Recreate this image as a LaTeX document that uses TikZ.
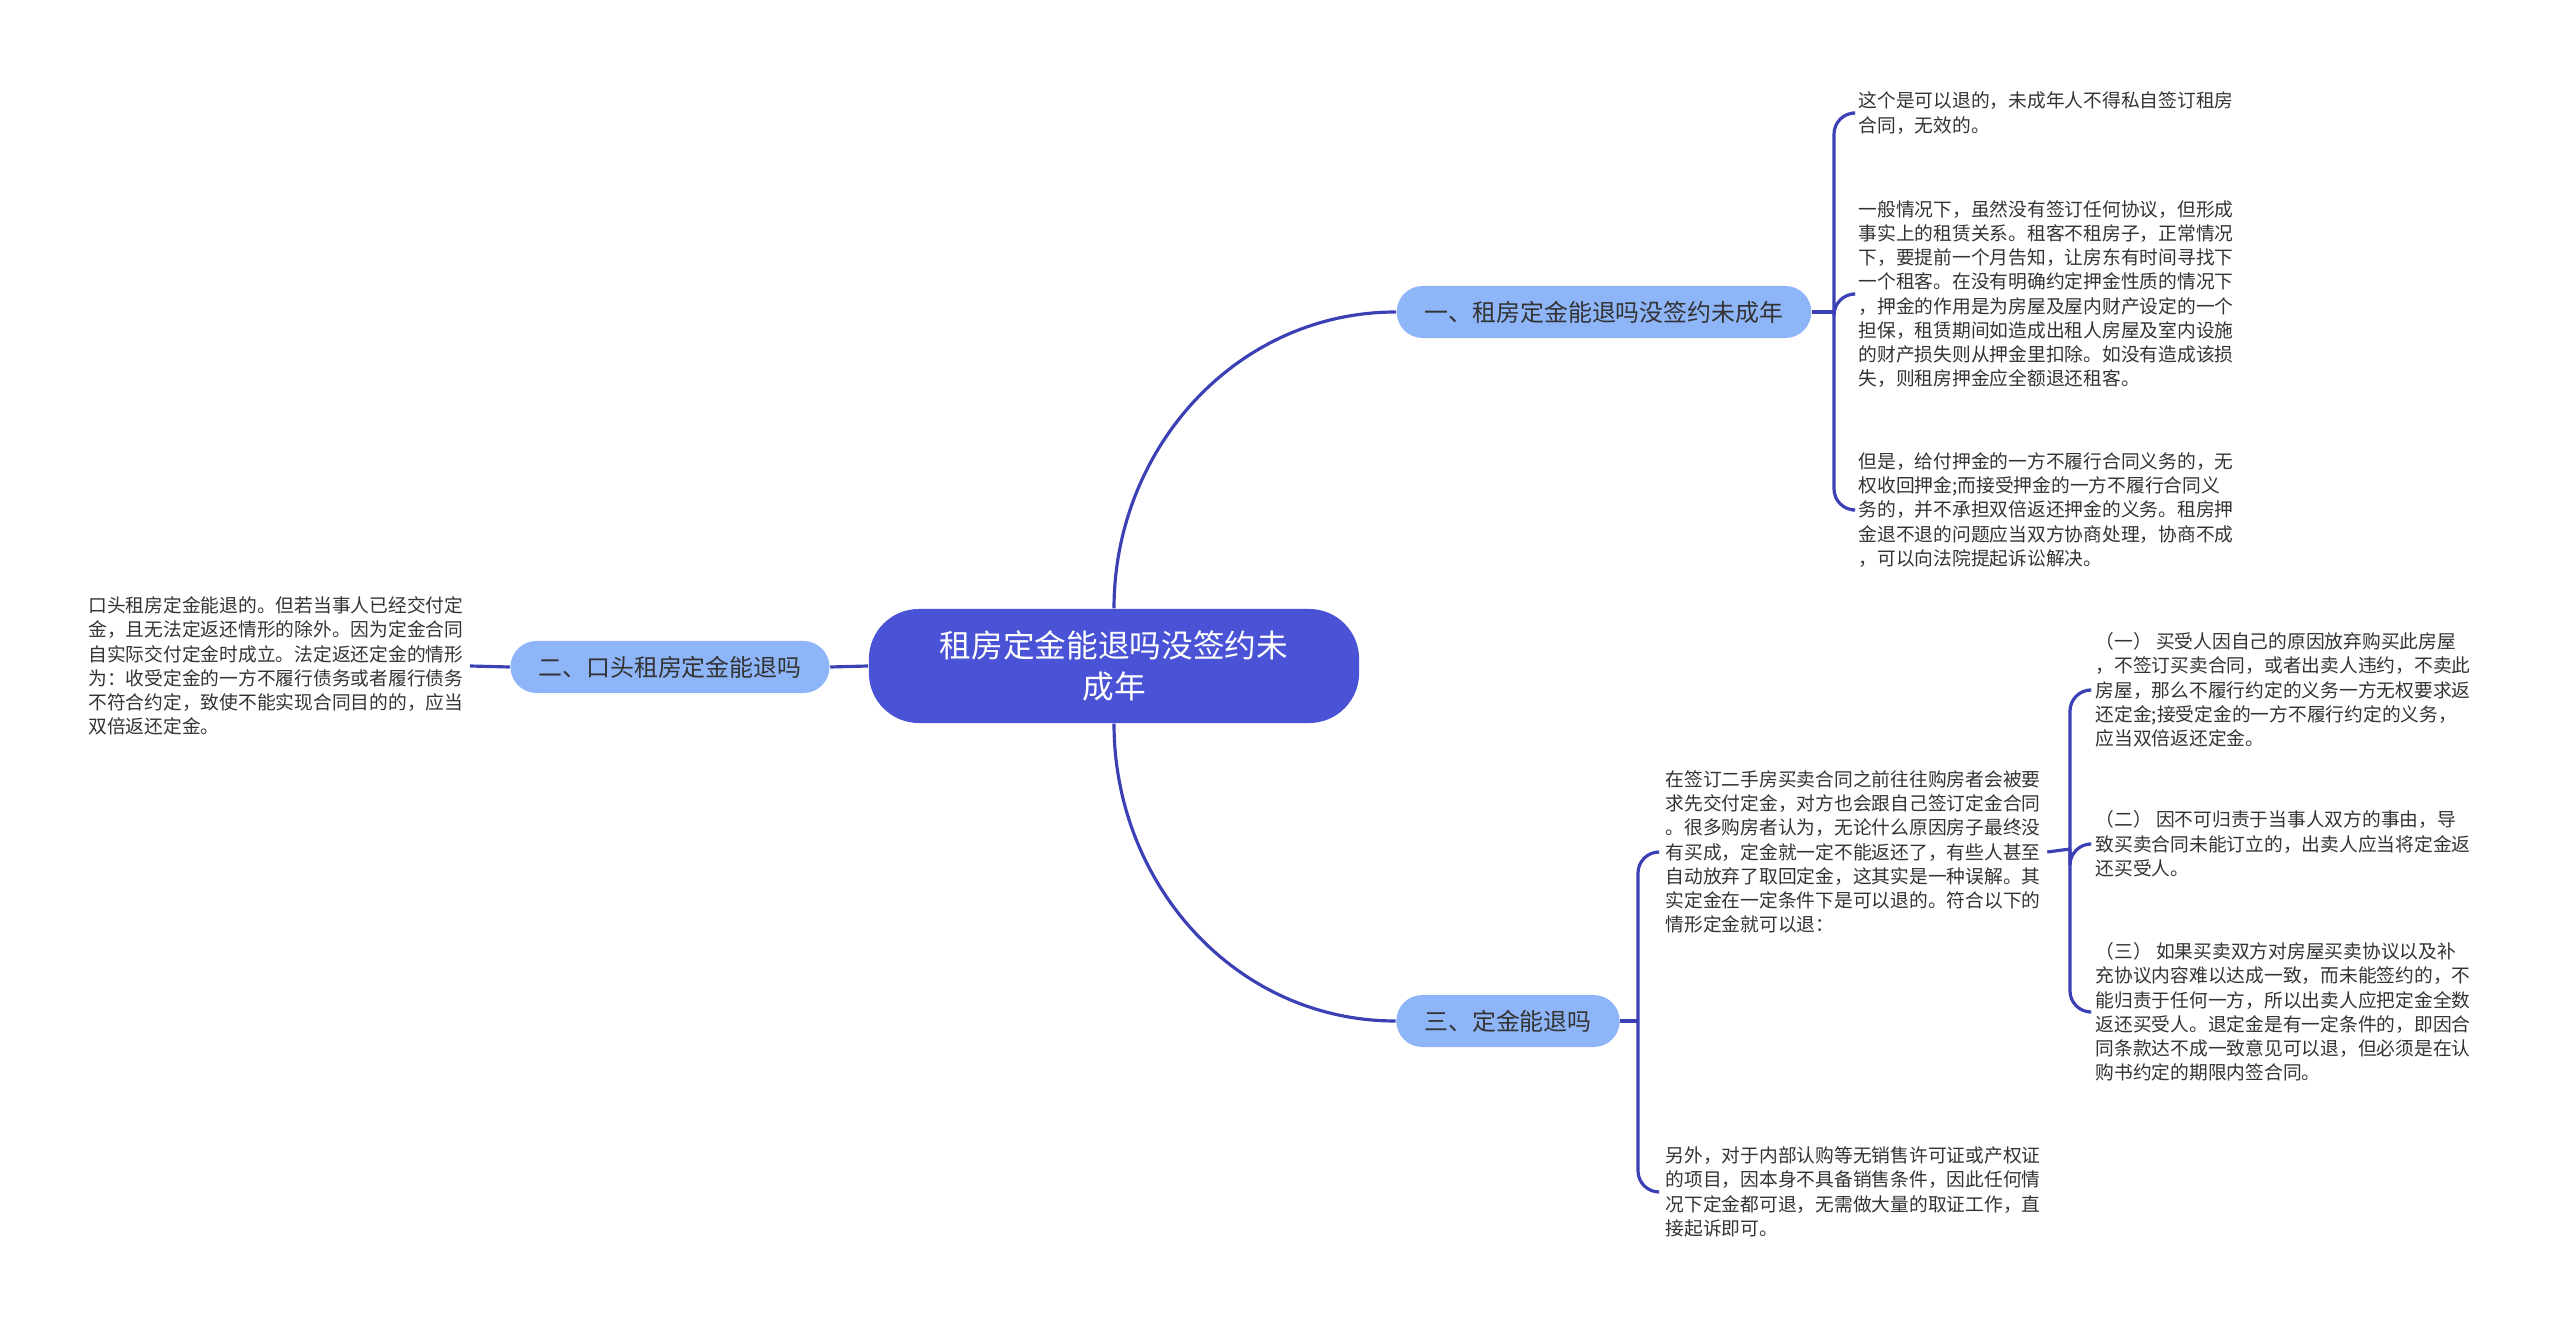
\documentclass[tikz,border=0pt]{standalone}
\usepackage{fontspec}
\setmainfont{Noto Sans CJK SC}
\usepackage{tikz}
\usetikzlibrary{positioning}
\definecolor{rootblue}{HTML}{4A53D6}
\definecolor{branchblue}{HTML}{8DB5F8}
\definecolor{linkblue}{HTML}{3B40B4}
\definecolor{inktext}{HTML}{333333}
\tikzset{>=stealth}

\begin{document}
\begin{tikzpicture}[x=0.01cm, y=-0.01cm,
    rootbox/.style={fill=rootblue, text=white, rounded corners=0.5cm, minimum width=4.9cm, minimum height=1.14cm,
        align=center, font=\fontsize{9}{11.6}\selectfont},
    branchbox/.style={fill=branchblue, text=inktext, rounded corners=0.26cm, minimum height=0.52cm, inner xsep=0.28cm,
        font=\fontsize{6.8}{8}\selectfont},
    leaftext/.style={anchor=west, align=left, inner xsep=0.06cm, inner ysep=0, text=inktext,
        font=\fontsize{5.33}{6.9}\selectfont},
    link/.style={draw=linkblue, line width=0.9pt, rounded corners=6pt}]
    \useasboundingbox (0,0) rectangle (2560,1331);

    % main topic and the three branches
    \node[rootbox] (root) at (1114,666) {租房定金能退吗没签约未\\成年};
    \node[branchbox] (b1) at (1604,312) {一、租房定金能退吗没签约未成年};
    \node[branchbox] (b2) at (670,667) {二、口头租房定金能退吗};
    \node[branchbox] (b3) at (1508,1021) {三、定金能退吗};

    \draw[link] (root.north) to[out=90, in=180] (b1.west);
    \draw[link] (root.south) to[out=-90, in=180] (b3.west);
    \draw[link] (root.west) -- (b2.east);

    % branch one
    \node[leaftext] (l11) at (1852,113) {这个是可以退的，未成年人不得私自签订租房\\合同，无效的。};
    \node[leaftext] (l12) at (1852,294) {一般情况下，虽然没有签订任何协议，但形成\\
        事实上的租赁关系。租客不租房子，正常情况\\
        下，要提前一个月告知，让房东有时间寻找下\\
        一个租客。在没有明确约定押金性质的情况下\\
        ，押金的作用是为房屋及屋内财产设定的一个\\
        担保，租赁期间如造成出租人房屋及室内设施\\
        的财产损失则从押金里扣除。如没有造成该损\\
        失，则租房押金应全额退还租客。};
    \node[leaftext] (l13) at (1852,510) {但是，给付押金的一方不履行合同义务的，无\\
        权收回押金;而接受押金的一方不履行合同义\\
        务的，并不承担双倍返还押金的义务。租房押\\
        金退不退的问题应当双方协商处理，协商不成\\
        ，可以向法院提起诉讼解决。};
    \coordinate (j1) at (1834,312);
    \draw[link] (b1.east) -- (j1);
    \foreach \n in {l11, l12, l13}
        \draw[link] (j1) |- (\n.west);

    % branch two
    \node[leaftext, anchor=east] (l21) at (470,666) {口头租房定金能退的。但若当事人已经交付定\\
        金，且无法定返还情形的除外。因为定金合同\\
        自实际交付定金时成立。法定返还定金的情形\\
        为：收受定金的一方不履行债务或者履行债务\\
        不符合约定，致使不能实现合同目的的，应当\\
        双倍返还定金。};
    \draw[link] (b2.west) -- (l21.east);

    % branch three
    \node[leaftext] (l31) at (1659,852) {在签订二手房买卖合同之前往往购房者会被要\\
        求先交付定金，对方也会跟自己签订定金合同\\
        。很多购房者认为，无论什么原因房子最终没\\
        有买成，定金就一定不能返还了，有些人甚至\\
        自动放弃了取回定金，这其实是一种误解。其\\
        实定金在一定条件下是可以退的。符合以下的\\
        情形定金就可以退：};
    \node[leaftext] (l32) at (1659,1192) {另外，对于内部认购等无销售许可证或产权证\\
        的项目，因本身不具备销售条件，因此任何情\\
        况下定金都可退，无需做大量的取证工作，直\\
        接起诉即可。};
    \coordinate (j3) at (1638,1021);
    \draw[link] (b3.east) -- (j3);
    \foreach \n in {l31, l32}
        \draw[link] (j3) |- (\n.west);

    % the three cases under the first leaf of branch three
    \node[leaftext] (c1) at (2089,690) {（一） 买受人因自己的原因放弃购买此房屋\\
        ，不签订买卖合同，或者出卖人违约，不卖此\\
        房屋，那么不履行约定的义务一方无权要求返\\
        还定金;接受定金的一方不履行约定的义务，\\
        应当双倍返还定金。};
    \node[leaftext] (c2) at (2089,844) {（二） 因不可归责于当事人双方的事由，导\\
        致买卖合同未能订立的，出卖人应当将定金返\\
        还买受人。};
    \node[leaftext] (c3) at (2089,1012) {（三） 如果买卖双方对房屋买卖协议以及补\\
        充协议内容难以达成一致，而未能签约的，不\\
        能归责于任何一方，所以出卖人应把定金全数\\
        返还买受人。退定金是有一定条件的，即因合\\
        同条款达不成一致意见可以退，但必须是在认\\
        购书约定的期限内签合同。};
    \coordinate (j4) at (2070,849);
    \draw[link] (l31.east) -- (j4);
    \foreach \n in {c1, c2, c3}
        \draw[link] (j4) |- (\n.west);
\end{tikzpicture}
\end{document}
